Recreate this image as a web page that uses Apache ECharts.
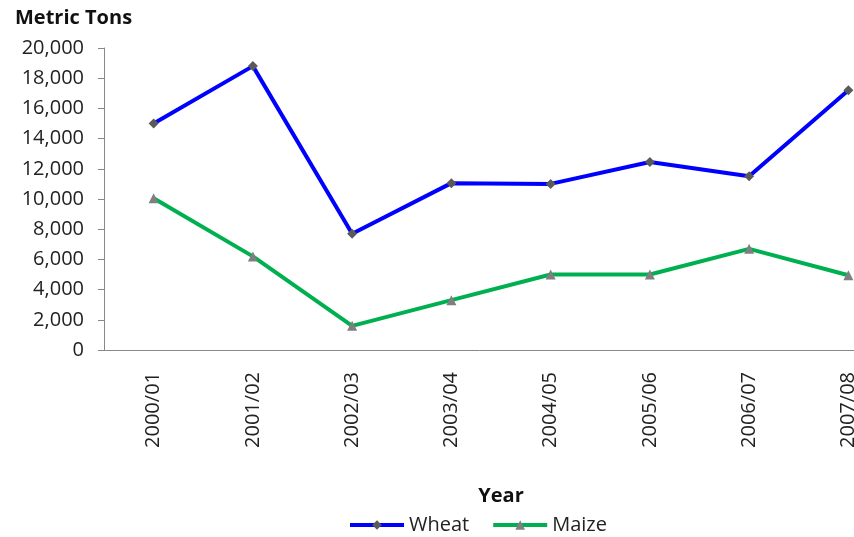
<!DOCTYPE html>
<html>
<head>
<meta charset="utf-8">
<script src="https://cdn.jsdelivr.net/npm/echarts@6/dist/echarts.min.js"></script>
<style>
  html, body { margin: 0; padding: 0; background: #fff; }
  #chart { width: 854px; height: 537px; }
</style>
</head>
<body>
<div id="chart"></div>
<script>
const years = ['2000/01', '2001/02', '2002/03', '2003/04', '2004/05', '2005/06', '2006/07', '2007/08'];
const wheat = [15000, 18800, 7700, 11050, 11000, 12450, 11500, 17200];
const maize = [10050, 6200, 1600, 3300, 5000, 5000, 6700, 4950];

const font = 'Open Sans';
const chart = echarts.init(document.getElementById('chart'));

chart.setOption({
  animation: false,
  textStyle: { fontFamily: font },
  title: {
    text: 'Metric Tons',
    left: 10,
    top: 3,
    textStyle: { fontFamily: font, fontSize: 20, fontWeight: 'bold', color: '#111' },
  },
  legend: {
    top: 510,
    left: 343,
    itemWidth: 54,
    itemHeight: 12,
    itemGap: 22,
    lineStyle: { width: 4 },
    textStyle: { fontFamily: font, fontSize: 20, color: '#222' },
    data: ['Wheat', 'Maize'],
  },
  grid: {
    left: 104,
    right: -44,
    top: 48,
    height: 302,
    outerBoundsMode: 'none',
  },
  xAxis: {
    type: 'category',
    data: years,
    name: 'Year',
    nameLocation: 'middle',
    nameGap: 136,
    nameTextStyle: { fontFamily: font, fontSize: 20, fontWeight: 'bold', color: '#111' },
    axisLine: { lineStyle: { color: '#888', width: 1 } },
    axisTick: { length: 6, lineStyle: { color: '#888' } },
    axisLabel: { rotate: 90, fontSize: 20, color: '#222', margin: 22 },
  },
  yAxis: {
    type: 'value',
    min: 0,
    max: 20000,
    interval: 2000,
    splitLine: { show: false },
    axisLine: { show: true, lineStyle: { color: '#888', width: 1 } },
    axisTick: { show: true, length: 6, lineStyle: { color: '#888' } },
    axisLabel: {
      fontSize: 20,
      color: '#222',
      margin: 20,
      formatter: v => v.toLocaleString('en-US'),
    },
  },
  series: [
    {
      name: 'Wheat',
      type: 'line',
      data: wheat,
      symbol: 'diamond',
      symbolSize: 10,
      lineStyle: { color: '#0000ff', width: 4 },
      itemStyle: { color: '#5a5a5a' },
      color: '#0000ff',
    },
    {
      name: 'Maize',
      type: 'line',
      data: maize,
      symbol: 'triangle',
      symbolSize: 10,
      lineStyle: { color: '#00b050', width: 4 },
      itemStyle: { color: '#7f7f7f' },
      color: '#00b050',
    },
  ],
});
</script>
</body>
</html>
